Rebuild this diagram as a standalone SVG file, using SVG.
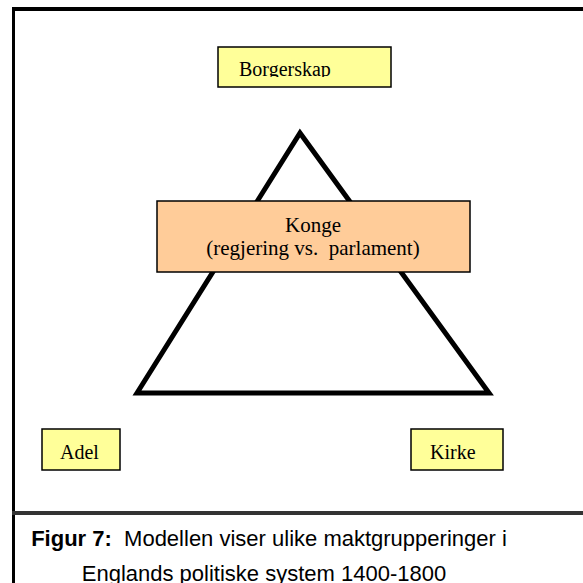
<svg xmlns="http://www.w3.org/2000/svg" width="583" height="583" viewBox="0 0 583 583">
  <style>
    .box-y { fill: #FFFF99; stroke: #000; stroke-width: 1.5; }
    .box-o { fill: #FFCC99; stroke: #000; stroke-width: 1.5; }
    .lbl { font-family: "Liberation Serif", "Times New Roman", serif; font-size: 20px; fill: #000; }
    .klbl { font-family: "Liberation Serif", "Times New Roman", serif; font-size: 21px; fill: #000; }
    .cap { font-family: "Liberation Sans", Arial, sans-serif; font-size: 22px; fill: #000; }
    .frame { stroke: #000; fill: none; }
  </style>
  <defs>
    <clipPath id="clipB">
      <rect x="218" y="47" width="173" height="30"/>
    </clipPath>
  </defs>
  <rect x="0" y="0" width="583" height="583" fill="#fff"/>

  <g id="frame">
    <line class="frame" x1="12" y1="9" x2="583" y2="9" stroke-width="4"/>
    <line class="frame" x1="13.5" y1="7" x2="13.5" y2="583" stroke-width="3"/>
    <line x1="12" y1="513" x2="583" y2="513" stroke="#333" stroke-width="4"/>
  </g>

  <g id="connectors">
    <polygon points="137,393 300,133 489,393" fill="none" stroke="#000" stroke-width="5" stroke-linejoin="miter"/>
  </g>

  <g id="node-borgerskap">
    <rect class="box-y" x="218" y="47" width="173" height="40"/>
    <text class="lbl" x="239" y="76" clip-path="url(#clipB)">Borgerskap</text>
  </g>

  <g id="node-konge">
    <rect class="box-o" x="157" y="201" width="313" height="71"/>
    <text class="klbl" x="313" y="232" text-anchor="middle">Konge</text>
    <text class="klbl" x="313" y="255" text-anchor="middle" xml:space="preserve">(regjering vs.  parlament)</text>
  </g>

  <g id="node-adel">
    <rect class="box-y" x="42" y="429" width="78" height="41"/>
    <text class="lbl" x="60" y="459">Adel</text>
  </g>

  <g id="node-kirke">
    <rect class="box-y" x="411" y="429" width="92" height="41"/>
    <text class="lbl" x="430" y="459">Kirke</text>
  </g>

  <g id="caption">
    <text class="cap" x="269" y="546" text-anchor="middle" xml:space="preserve"><tspan font-weight="bold">Figur 7:</tspan>  Modellen viser ulike maktgrupperinger i</text>
    <text class="cap" x="264" y="581" text-anchor="middle">Englands politiske system 1400-1800</text>
  </g>
</svg>
